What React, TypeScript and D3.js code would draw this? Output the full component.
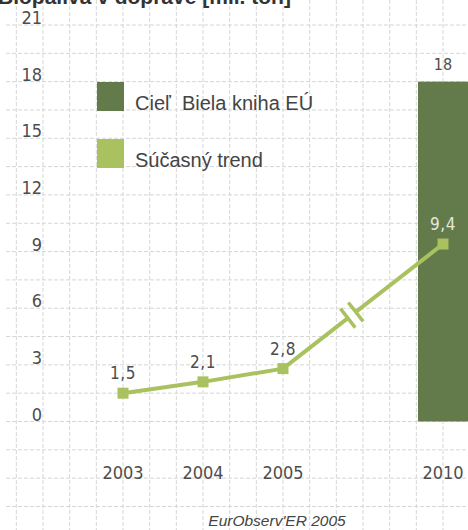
import React, { useEffect, useRef } from 'react';
import * as d3 from 'd3';

const categories = ['2003', '2004', '2005', 'gap', '2010'];
const trendYears = ['2003', '2004', '2005', '2010'];
const trendValues = [1.5, 2.1, 2.8, 9.4];
const targetYear = '2010';
const targetValue = 18;
const yTicks = [0, 3, 6, 9, 12, 15, 18, 21];
const legendItems = [
  { label: 'Cieľ  Biela kniha EÚ', color: '#637b4b' },
  { label: 'Súčasný trend', color: '#a9c25f' },
];
const title = 'Biopalivá v doprave [mil. ton]';
const source = "EurObserv'ER 2005";

const fmt = (v: number) => String(v).replace('.', ',');

export default function App() {
  const svgRef = useRef<SVGSVGElement>(null);

  useEffect(() => {
    document.body.style.margin = '0';
    if (!svgRef.current) return;
    const svg = d3.select(svgRef.current);
    svg.selectAll('*').remove();

    const numFont = "'DejaVu Sans Condensed', sans-serif";
    const textFont = "'Liberation Sans', Arial, sans-serif";
    const textCol = '#4d4d4d';
    const light = legendItems[1].color;
    const dark = legendItems[0].color;

    const x = d3.scalePoint<string>().domain(categories).range([123, 443]);
    const y = d3.scaleLinear().domain([0, 21]).range([421.5, 25]);
    const step = x.step();

    // graph-paper grid
    const grid = svg.append('g').attr('stroke', '#d6d6d6').attr('stroke-width', 1).attr('stroke-dasharray', '4,2');
    d3.range(-4.5, 23, 1.5).forEach((v) => {
      grid.append('line').attr('x1', 6).attr('x2', 468).attr('y1', y(v)).attr('y2', y(v));
    });
    d3.range(-4, 14).forEach((k) => {
      const gx = (x('2003') as number) + (k * step) / 3;
      grid.append('line').attr('x1', gx).attr('x2', gx).attr('y1', 0).attr('y2', 530);
    });

    // title (cropped at top, as in the source image)
    svg.append('text')
      .attr('x', -2)
      .attr('y', 4)
      .attr('font-family', textFont)
      .attr('font-weight', 'bold')
      .attr('font-size', 21)
      .attr('fill', '#333')
      .text(title);

    // y tick labels
    yTicks.forEach((v) => {
      svg.append('text')
        .attr('x', 42)
        .attr('y', y(v) - 1)
        .attr('text-anchor', 'end')
        .attr('font-family', numFont)
        .attr('font-size', 18)
        .attr('fill', textCol)
        .text(v);
    });

    // target bar
    const bx = x(targetYear) as number;
    svg.append('rect')
      .attr('x', bx - 25)
      .attr('y', y(targetValue))
      .attr('width', 54)
      .attr('height', y(0) - y(targetValue))
      .attr('fill', dark);
    svg.append('text')
      .attr('x', bx)
      .attr('y', y(targetValue) - 12)
      .attr('text-anchor', 'middle')
      .attr('font-family', numFont)
      .attr('font-size', 16)
      .attr('fill', textCol)
      .text(targetValue);

    // trend line
    const pts: [number, number][] = trendYears.map((yr, i) => [x(yr) as number, y(trendValues[i])]);
    svg.append('path')
      .attr('d', d3.line()(pts))
      .attr('fill', 'none')
      .attr('stroke', light)
      .attr('stroke-width', 4)
      .attr('stroke-linejoin', 'round');

    // axis break on the 2005-2010 segment
    const [p0, p1] = [pts[2], pts[3]];
    const t = 0.43;
    const cx = p0[0] + (p1[0] - p0[0]) * t;
    const cy = p0[1] + (p1[1] - p0[1]) * t;
    const ang = (Math.atan2(p1[1] - p0[1], p1[0] - p0[0]) * 180) / Math.PI;
    const brk = svg.append('g').attr('transform', `translate(${cx},${cy}) rotate(${ang})`);
    brk.append('rect').attr('x', -4).attr('y', -4).attr('width', 8).attr('height', 8).attr('fill', '#fff');
    [-5, 5].forEach((dx) => {
      brk.append('line')
        .attr('x1', dx).attr('x2', dx)
        .attr('y1', -12).attr('y2', 12)
        .attr('stroke', light)
        .attr('stroke-width', 3.5);
    });

    // markers + value labels
    pts.forEach(([px, py], i) => {
      svg.append('rect')
        .attr('x', px - 5.5)
        .attr('y', py - 5.5)
        .attr('width', 11)
        .attr('height', 11)
        .attr('fill', light);
      svg.append('text')
        .attr('x', px)
        .attr('y', py - 14)
        .attr('text-anchor', 'middle')
        .attr('font-family', numFont)
        .attr('font-size', 17)
        .attr('letter-spacing', 0.5)
        .attr('fill', trendYears[i] === targetYear ? '#e4e8dc' : textCol)
        .text(fmt(trendValues[i]));
    });

    // x labels
    categories.filter((c) => c !== 'gap').forEach((c) => {
      svg.append('text')
        .attr('x', x(c) as number)
        .attr('y', 479)
        .attr('text-anchor', 'middle')
        .attr('font-family', numFont)
        .attr('font-size', 18)
        .attr('fill', textCol)
        .text(c);
    });

    // legend
    legendItems.forEach((item, i) => {
      const ly = 82 + i * 57;
      svg.append('rect')
        .attr('x', 97)
        .attr('y', ly)
        .attr('width', 27)
        .attr('height', 29)
        .attr('fill', item.color);
      svg.append('text')
        .attr('x', 135)
        .attr('y', ly + 28)
        .attr('font-family', textFont)
        .attr('font-size', 20)
        .attr('fill', '#444')
        .style('white-space', 'pre')
        .text(item.label);
    });

    // source
    svg.append('text')
      .attr('x', 277)
      .attr('y', 526)
      .attr('text-anchor', 'middle')
      .attr('font-family', textFont)
      .attr('font-style', 'italic')
      .attr('font-size', 15.5)
      .attr('fill', '#444')
      .text(source);
  }, []);

  return <svg ref={svgRef} width={468} height={530} style={{ display: 'block', background: '#fff' }} />;
}
